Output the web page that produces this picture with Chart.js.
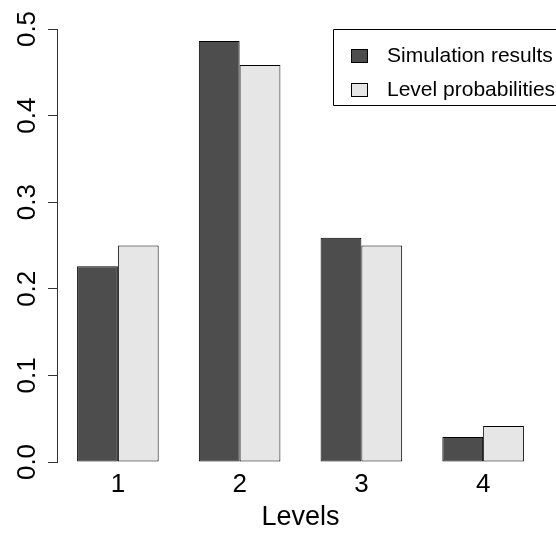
<!DOCTYPE html>
<html>
<head>
<meta charset="utf-8">
<script src="https://cdn.jsdelivr.net/npm/chart.js@4/dist/chart.umd.min.js"></script>
<style>
  html, body { margin: 0; padding: 0; background: #ffffff; }
  #wrap { width: 556px; height: 535px; position: relative; }
</style>
</head>
<body>
<div id="wrap"><canvas id="c" width="556" height="535"></canvas></div>
<script>
// ---- data ----
const categories = ['1', '2', '3', '4'];
const seriesNames = ['Simulation results', 'Level probabilities'];
const simulationResults = [0.226, 0.486, 0.259, 0.029];
const levelProbabilities = [0.25, 0.4583, 0.25, 0.0417];
const yTickValues = [0.0, 0.1, 0.2, 0.3, 0.4, 0.5];
const xAxisTitle = 'Levels';

// ---- style ----
const FONT = '"Liberation Sans", Arial, Helvetica, sans-serif';
const DARK = '#4d4d4d';
const LIGHT = '#e6e6e6';

const legendPlugin = {
  id: 'rLegend',
  afterDraw(chart) {
    const ctx = chart.ctx;
    const area = chart.chartArea;
    const left = area.right - 211;
    const top = area.top;
    const bottom = top + 76;
    ctx.save();
    ctx.strokeStyle = '#000';
    ctx.lineWidth = 1;
    ctx.fillStyle = '#fff';
    ctx.beginPath();
    ctx.rect(Math.round(left) + 0.5, Math.round(top) + 0.5, 600, Math.round(bottom - top));
    ctx.fill();
    ctx.stroke();
    ctx.font = '21px ' + FONT;
    ctx.textBaseline = 'middle';
    ctx.textAlign = 'left';
    chart.data.datasets.forEach((ds, i) => {
      const cy = top + 27 + i * 34;
      const sx = left + 18;
      ctx.fillStyle = ds.backgroundColor;
      ctx.fillRect(Math.round(sx) + 0.5, Math.round(cy - 7) + 0.5, 16, 13);
      ctx.strokeStyle = '#000';
      ctx.strokeRect(Math.round(sx) + 0.5, Math.round(cy - 7) + 0.5, 16, 13);
      ctx.fillStyle = '#000';
      ctx.fillText(ds.label, left + 54, cy);
    });
    ctx.restore();
  }
};

new Chart(document.getElementById('c'), {
  type: 'bar',
  data: {
    labels: categories,
    datasets: [
      {
        label: seriesNames[0],
        data: simulationResults,
        backgroundColor: DARK,
        borderColor: '#000',
        borderWidth: 1,
        borderSkipped: false,
        barPercentage: 1.0,
        categoryPercentage: 0.67
      },
      {
        label: seriesNames[1],
        data: levelProbabilities,
        backgroundColor: LIGHT,
        borderColor: '#000',
        borderWidth: 1,
        borderSkipped: false,
        barPercentage: 1.0,
        categoryPercentage: 0.67
      }
    ]
  },
  options: {
    responsive: false,
    animation: false,
    devicePixelRatio: 1,
    layout: { padding: { top: 29, right: 12, bottom: 0, left: 0 } },
    plugins: {
      legend: { display: false },
      tooltip: { enabled: false }
    },
    scales: {
      x: {
        grid: { display: false, drawTicks: false },
        border: { display: false },
        ticks: {
          color: '#000',
          font: { family: FONT, size: 26 },
          padding: 7,
          maxRotation: 0,
          minRotation: 0
        },
        title: {
          display: true,
          text: xAxisTitle,
          color: '#000',
          font: { family: FONT, size: 27, lineHeight: 1.2 },
          padding: { top: 0, bottom: 1 }
        },
        afterFit(scale) { scale.height = 73; }
      },
      y: {
        min: 0,
        max: 0.5,
        afterBuildTicks(scale) {
          scale.ticks = yTickValues.map(v => ({ value: v }));
        },
        grid: {
          display: true,
          drawOnChartArea: false,
          drawTicks: true,
          tickLength: 9,
          color: '#333'
        },
        border: { display: true, color: '#333', width: 1 },
        ticks: {
          color: '#000',
          font: { family: FONT, size: 26 },
          minRotation: 90,
          maxRotation: 90,
          crossAlign: 'center',
          padding: 2,
          callback: (v) => Number(v).toFixed(1)
        },
        afterFit(scale) { scale.width = 57; }
      }
    }
  },
  plugins: [legendPlugin]
});
</script>
</body>
</html>
